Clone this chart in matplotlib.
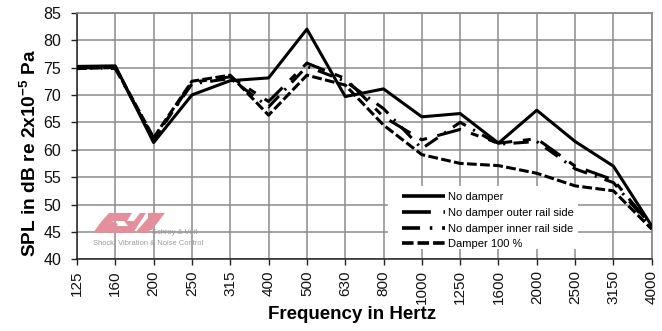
import matplotlib
matplotlib.use("Agg")
import matplotlib.pyplot as plt
from matplotlib.patches import Polygon, Rectangle

plt.rcParams['font.family'] = ['Liberation Sans', 'DejaVu Sans']
plt.rcParams['mathtext.fontset'] = 'custom'
plt.rcParams['mathtext.rm'] = 'Liberation Sans:bold'
plt.rcParams['mathtext.bf'] = 'Liberation Sans:bold'
plt.rcParams['mathtext.it'] = 'Liberation Sans:bold'

freqs = ["125", "160", "200", "250", "315", "400", "500", "630",
         "800", "1000", "1250", "1600", "2000", "2500", "3150", "4000"]

no_damper = [75.2, 75.3, 61.3, 70.0, 72.6, 73.1, 82.0, 69.7,
             71.1, 66.0, 66.6, 61.2, 67.2, 61.5, 57.0, 46.1]
outer_rail = [75.0, 75.0, 61.8, 72.3, 73.3, 68.8, 75.8, 73.0,
              66.0, 61.8, 63.7, 61.2, 62.0, 57.0, 54.5, 46.0]
inner_rail = [75.0, 74.8, 62.0, 72.0, 73.0, 67.8, 75.2, 72.5,
              67.5, 60.2, 65.0, 61.0, 61.5, 56.5, 54.0, 45.8]
damper_100 = [74.8, 75.0, 62.2, 72.5, 73.6, 66.3, 73.6, 71.8,
              64.5, 59.1, 57.5, 57.1, 55.7, 53.4, 52.5, 45.5]

series = [
    ("No damper", no_damper, (0, ())),
    ("No damper outer rail side", outer_rail, (0, (8.0, 3.5, 2.6, 3.5))),
    ("No damper inner rail side", inner_rail, (0, (5.0, 2.7, 0.7, 2.7))),
    ("Damper 100 %", damper_100, (0, (3.2, 1.1))),
]

fig = plt.figure(figsize=(6.62, 3.31), dpi=100)
ax = fig.add_axes([0.1163, 0.2166, 0.9845 - 0.1163, 0.9616 - 0.2166])

x = list(range(len(freqs)))
for label, vals, ls in series:
    ax.plot(x, vals, color="black", lw=2.2, linestyle=ls, label=label,
            solid_joinstyle="miter", dash_capstyle="butt", zorder=3)

ax.set_xlim(0, len(freqs) - 1)
ax.set_ylim(40, 85)
ax.set_xticks(x)
ax.set_xticklabels(freqs, rotation=90, fontsize=11, color="#111111")
ax.set_yticks(range(40, 86, 5))
ax.tick_params(axis="y", labelsize=11.5, length=4.5, width=1, pad=7,
               colors="#222222", labelcolor="#111111")
ax.tick_params(axis="x", length=4, width=1, pad=4, colors="#222222",
               labelcolor="#111111")

ax.grid(True, color="#8c8c8c", lw=1.1)
ax.set_axisbelow(True)
for side in ("top", "right"):
    ax.spines[side].set_color("#8c8c8c")
    ax.spines[side].set_linewidth(1.3)
for side in ("left", "bottom"):
    ax.spines[side].set_color("#222222")
    ax.spines[side].set_linewidth(1.1)

ax.set_xlabel("Frequency in Hertz", fontsize=13.5, fontweight="bold")
ax.xaxis.set_label_coords(0.478, -0.19)
ax.set_ylabel("SPL in dB re 2x10$^{-5}$ Pa", fontsize=13.8,
              fontweight="bold")
ax.yaxis.set_label_coords(-0.064, 0.431)

# white panel behind the legend, hiding the grid there
ax.add_patch(Rectangle((0.541, 0.042), 0.33, 0.255, transform=ax.transAxes,
                       facecolor="white", edgecolor="none", zorder=1.5))
leg = ax.legend(loc="lower left", bbox_to_anchor=(0.555, 0.018),
                frameon=False, fontsize=8, handlelength=3.9,
                handletextpad=0.25, labelspacing=0.52, borderpad=0.0)
leg.set_zorder(4)
for line in leg.get_lines():
    line.set_linewidth(2.6)

# company logo watermark
pink = "#e3909c"
W, H = 662.0, 331.0
def fpoly(pts, color=pink):
    return Polygon([(px / W, 1 - py / H) for px, py in pts], closed=True,
                   transform=fig.transFigure, facecolor=color,
                   edgecolor="none", zorder=5)
for pts in [
    [(93, 233), (101, 222), (109, 213), (132, 213), (127, 221),
     (112, 221), (118, 224), (112, 233)],
    [(108, 233), (114, 226), (128, 226), (124, 221), (134, 221),
     (140, 213), (146, 213), (133, 233)],
    [(135, 233), (148, 218), (150, 233)],
    [(148, 213), (165, 213), (152, 230), (148, 230)],
]:
    fig.patches.append(fpoly(pts))
fig.text(152 / W, 1 - 232 / H, "Schrey & Veit", fontsize=5.4,
         color="#9a9a9a", va="center", ha="left", zorder=6)
fig.text(93 / W, 1 - 243 / H, "Shock, Vibration & Noise Control",
         fontsize=5.4, color="#9a9a9a", va="center", ha="left", zorder=6)

fig.savefig("out.png", dpi=100)
